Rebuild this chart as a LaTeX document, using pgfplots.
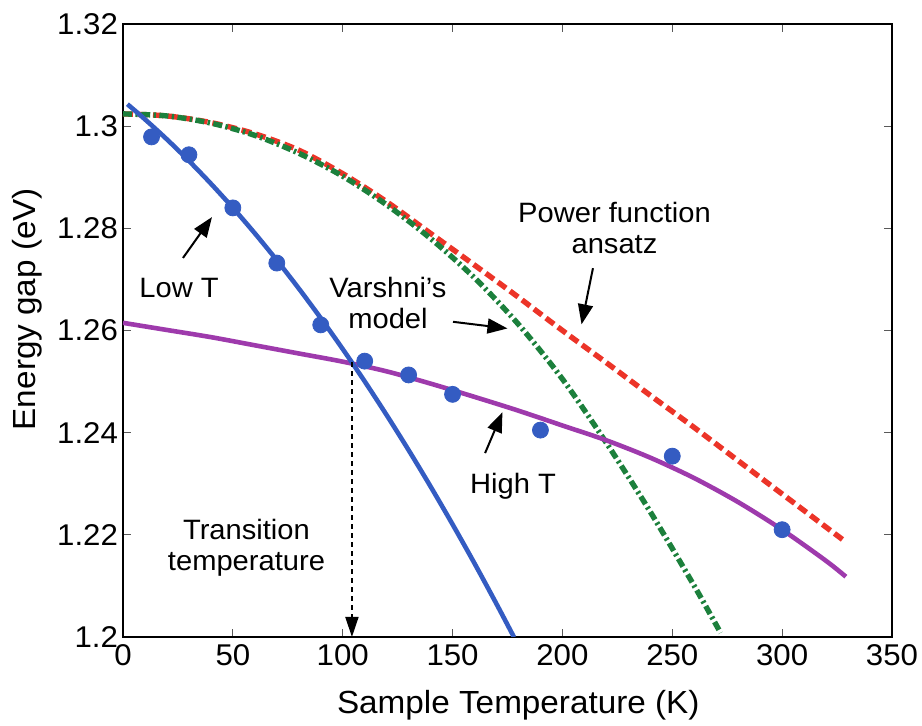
\documentclass[border=0pt]{standalone}
\usepackage{pgfplots}
\pgfplotsset{compat=1.18}
\usepackage{fontspec}
\setmainfont{Liberation Sans}[FakeStretch=1.04]
\usetikzlibrary{arrows.meta}
\definecolor{cblue}{RGB}{52,92,194}
\definecolor{cpurple}{RGB}{158,58,172}
\definecolor{cgreen}{RGB}{28,128,60}
\definecolor{cred}{RGB}{236,52,40}
\begin{document}
\begin{tikzpicture}
\useasboundingbox (-61.5pt,-44.5pt) rectangle (399.5pt,318.5pt);
\begin{axis}[at={(0,0)}, anchor=south west, scale only axis,
  width=384.5pt, height=306.5pt,
  xmin=0, xmax=350, ymin=1.2, ymax=1.32,
  xtick={0,50,100,150,200,250,300,350},
  ytick={1.2,1.22,1.24,1.26,1.28,1.3,1.32},
  tick align=inside, major tick length=4pt,
  tick style={gray!70!black, line width=0.5pt},
  axis line style={line width=1.3pt},
  /pgf/number format/assume math mode=true,
  ticklabel style={font=\fontsize{15}{17}\selectfont},
  yticklabel style={xshift=1pt},
  xlabel={Sample Temperature (K)}, ylabel={Energy gap (eV)},
  label style={font=\fontsize{16}{18}\selectfont},
  xlabel style={at={(axis description cs:0.514,-0.111)}, anchor=center},
  ylabel style={at={(axis description cs:-0.125,0.535)}, anchor=center},
]
% Power function ansatz (red dashed)
\addplot[cred, line width=2.7pt, dash pattern=on 5pt off 2.5pt, smooth] coordinates {
(0,1.3024) (20,1.3020) (40,1.3007) (60,1.2985) (80,1.2953) (100,1.2907)
(120,1.2852) (140,1.2790) (160,1.2728) (180,1.2665) (200,1.2600) (220,1.2537)
(240,1.2473) (260,1.2410) (280,1.2345) (300,1.2280) (320,1.2215) (329,1.2186)};
% Varshni's model (green dash-dot)
\addplot[cgreen, line width=2.7pt, dash pattern=on 4.5pt off 1.7pt on 1.2pt off 1.7pt, smooth] coordinates {
(0,1.3024) (20,1.3020) (40,1.3006) (60,1.2982) (80,1.2947) (100,1.2902)
(120,1.2846) (140,1.2780) (160,1.2703) (180,1.2612) (200,1.2505) (220,1.2380)
(240,1.2245) (260,1.2100) (272,1.2008)};
% High T fit (purple)
\addplot[cpurple, line width=2.3pt, smooth] coordinates {
(0,1.2615) (20,1.2601) (40,1.2587) (60,1.2571) (80,1.2555) (100,1.2539)
(120,1.2520) (140,1.2496) (160,1.2470) (180,1.2443) (200,1.2414) (220,1.2385)
(240,1.2351) (260,1.2311) (280,1.2264) (300,1.2210) (320,1.2149) (329,1.2118)};
% Low T fit (blue)
\addplot[cblue, line width=2.3pt, smooth] coordinates {
(2,1.3043) (10,1.30134) (20,1.29741) (30,1.29321) (40,1.28875) (50,1.28402)
(60,1.27902) (70,1.27376) (80,1.26823) (90,1.26243) (100,1.25637) (110,1.25004)
(120,1.24344) (130,1.23658) (140,1.22945) (150,1.22205) (160,1.21440)
(170,1.20647) (178,1.19993)};
% measured points
\addplot[only marks, mark=*, mark size=4pt, cblue] coordinates {
(13,1.2979) (30,1.2944) (50,1.2840) (70,1.2732) (90,1.2611) (110,1.2540)
(130,1.2513) (150,1.2475) (190,1.2405) (250,1.2354) (300,1.2210)};
% annotations
\tikzset{ann/.style={font=\fontsize{14}{15.5}\selectfont, align=center, text=black}}
\tikzset{arr/.style={line width=1pt, -{Triangle[length=10pt,width=7.5pt]}}}
\node[ann] at (axis cs:25.5,1.2683) {Low T};
\draw[arr] (axis cs:27.3,1.2742) -- (axis cs:40.5,1.2822);
\node[ann] at (axis cs:120.6,1.2654) {Varshni's\\model};
\draw[arr] (axis cs:150.2,1.2617) -- (axis cs:175,1.2604);
\node[ann] at (axis cs:223.7,1.2801) {Power function\\ansatz};
\draw[arr] (axis cs:213.9,1.2722) -- (axis cs:208.7,1.2612);
\node[ann] at (axis cs:177.5,1.2296) {High T};
\draw[arr] (axis cs:164.8,1.2360) -- (axis cs:172.7,1.2440);
\node[ann] at (axis cs:56.2,1.2175) {Transition\\temperature};
\draw[line width=0.9pt, dash pattern=on 2.5pt off 2pt, -{Triangle[length=10pt,width=6.5pt]}]
  (axis cs:104.2,1.2538) -- (axis cs:104.2,1.2);
\end{axis}
\end{tikzpicture}
\end{document}
